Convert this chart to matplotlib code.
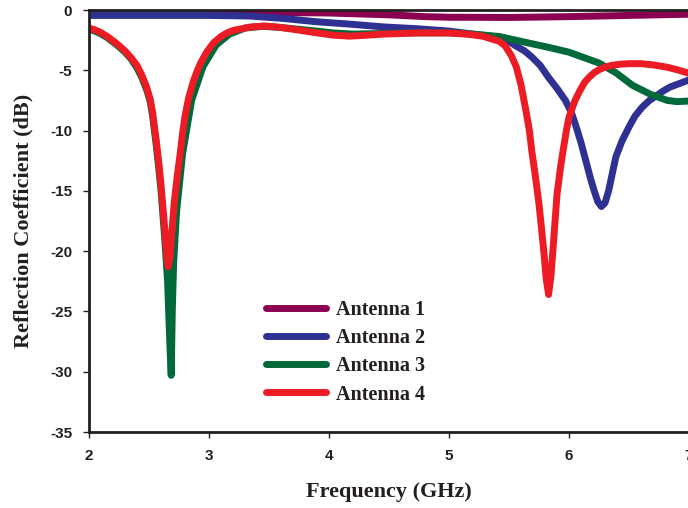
import matplotlib
matplotlib.use("Agg")
import matplotlib.pyplot as plt

plt.rcParams["axes.unicode_minus"] = False

# Antenna 1 (maroon)
freq1 = [2.0, 3.0, 3.5, 4.0, 4.5, 4.8, 5.0, 5.5, 6.0, 6.5, 7.0]
s11_1 = [-0.15, -0.2, -0.2, -0.25, -0.4, -0.55, -0.6, -0.62, -0.55, -0.45, -0.35]

# Antenna 2 (blue)
freq2 = [2.0, 2.5, 3.0, 3.34, 3.62, 3.89, 4.17, 4.45, 4.73, 5.0, 5.28, 5.42,
         5.5, 5.56, 5.63, 5.69, 5.76, 5.83, 5.9, 5.97, 6.02, 6.06, 6.1, 6.14, 6.18,
         6.21, 6.24, 6.27, 6.3, 6.33, 6.36, 6.39, 6.44, 6.5, 6.55, 6.61, 6.67, 6.73,
         6.78, 6.84, 6.92, 7.0]
s11_2 = [-0.45, -0.45, -0.45, -0.5, -0.7, -0.97, -1.17, -1.4, -1.55, -1.75, -2.1, -2.35,
         -2.6, -3.0, -3.4, -3.9, -4.6, -5.6, -6.5, -7.5, -8.5, -9.7, -11.0, -12.5, -14.0,
         -15.0, -15.9, -16.3, -16.0, -15.0, -13.6, -12.2, -10.9, -9.7, -8.8, -8.06, -7.5, -7.1,
         -6.75, -6.4, -6.1, -5.8]

# Antenna 3 (green)
freq3 = [2.0, 2.05, 2.1, 2.15, 2.2, 2.25, 2.3, 2.35, 2.4, 2.44, 2.48, 2.51, 2.53, 2.56,
         2.58, 2.6, 2.63, 2.655, 2.675, 2.685, 2.694, 2.705, 2.73, 2.78, 2.855, 2.95,
         3.06, 3.17, 3.3, 3.45, 3.6, 3.75, 3.9, 4.03, 4.2, 4.45, 4.73, 5.0, 5.2, 5.42,
         5.6, 5.83, 6.0, 6.25, 6.39, 6.53, 6.68, 6.82, 6.9, 7.0]
s11_3 = [-1.6, -1.75, -1.98, -2.28, -2.65, -3.05, -3.5, -4.05, -4.8, -5.6, -6.6, -7.6, -8.8, -11.2,
         -13.0, -15.0, -18.8, -22.5, -28.0, -30.3, -25.0, -21.0, -16.7, -11.9, -7.5, -4.7,
         -2.9, -2.0, -1.5, -1.35, -1.45, -1.6, -1.75, -1.9, -2.0, -1.95, -1.9, -1.9, -2.0, -2.2,
         -2.6, -3.1, -3.5, -4.4, -5.2, -6.25, -7.0, -7.5, -7.6, -7.55]

# Antenna 4 (red)
freq4 = [2.0, 2.05, 2.1, 2.15, 2.2, 2.25, 2.3, 2.35, 2.4, 2.44, 2.48, 2.51, 2.53, 2.56,
         2.58, 2.6, 2.63, 2.65, 2.66, 2.675, 2.69, 2.71, 2.735, 2.76, 2.78, 2.8, 2.83,
         2.87, 2.9, 2.93, 2.98, 3.04, 3.1, 3.15, 3.2, 3.35, 3.47, 3.6, 3.75, 3.9, 4.03,
         4.17, 4.3, 4.45, 4.73, 5.0, 5.15, 5.28, 5.42, 5.47, 5.52, 5.56, 5.6, 5.64, 5.67,
         5.69, 5.72, 5.75, 5.79, 5.81, 5.83, 5.85, 5.87, 5.9, 5.93, 5.95, 5.98, 6.0, 6.05,
         6.09, 6.13, 6.17, 6.21, 6.25, 6.3, 6.35, 6.42, 6.5, 6.6, 6.7, 6.82, 6.9, 7.0]
s11_4 = [-1.5, -1.65, -1.88, -2.18, -2.55, -2.95, -3.4, -3.95, -4.6, -5.4, -6.4, -7.4, -8.5, -10.8,
         -12.5, -14.5, -18.0, -20.5, -21.3, -20.5, -18.5, -16.0, -13.8, -11.9, -10.2, -8.8, -7.3,
         -5.9, -5.1, -4.4, -3.5, -2.7, -2.2, -1.9, -1.7, -1.4, -1.33, -1.45, -1.67, -1.9, -2.08,
         -2.17, -2.1, -2.0, -1.9, -1.9, -2.0, -2.17, -2.6, -3.0, -3.8, -4.7, -6.2, -8.3, -10.0,
         -11.7, -13.8, -16.1, -20.0, -22.3, -23.6, -22.0, -19.4, -15.3, -13.0, -11.7, -9.9, -8.9, -7.5,
         -6.7, -6.0, -5.56, -5.2, -4.95, -4.75, -4.6, -4.5, -4.45, -4.45, -4.55, -4.75, -4.95, -5.25]

labels = ["Antenna 1", "Antenna 2", "Antenna 3", "Antenna 4"]
colors = ["#8B0050", "#2E3192", "#00693A", "#ED1C24"]

fig = plt.figure(figsize=(6.88, 5.08), dpi=100)
ax = fig.add_axes([89 / 688, 76 / 508, 600 / 688, 422 / 508])

series = [(freq1, s11_1), (freq2, s11_2), (freq3, s11_3), (freq4, s11_4)]
for (f, s), lab, c in zip(series, labels, colors):
    ax.plot(f, s, color=c, lw=5, label=lab, solid_capstyle="round", solid_joinstyle="round")

ax.set_xlim(2, 7)
ax.set_ylim(-35, 0)
ax.set_xticks([2, 3, 4, 5, 6, 7])
ax.set_yticks([0, -5, -10, -15, -20, -25, -30, -35])

for sp in ax.spines.values():
    sp.set_linewidth(2.0)
    sp.set_color("#231F20")
ax.tick_params(direction="out", length=4, width=1, color="#231F20", pad=8)
for t in ax.get_xticklabels() + ax.get_yticklabels():
    t.set_fontfamily("Liberation Sans")
    t.set_fontweight("bold")
    t.set_fontsize(11)
    t.set_color("#231F20")

ax.set_xlabel("Frequency (GHz)", family="Liberation Serif", fontweight="bold",
              fontsize=16, color="#231F20", labelpad=14)
ax.set_ylabel("Reflection Coefficient (dB)", family="Liberation Serif", fontweight="bold",
              fontsize=16, color="#231F20", labelpad=12)

leg = ax.legend(loc="upper left", bbox_to_anchor=(0.295, 0.312), frameon=False,
                prop={"family": "Liberation Serif", "weight": "bold", "size": 14.5},
                handlelength=3.0, handletextpad=0.5, labelspacing=0.4,
                borderpad=0, borderaxespad=0)
for t in leg.get_texts():
    t.set_color("#231F20")

fig.savefig("out.png", dpi=100)
